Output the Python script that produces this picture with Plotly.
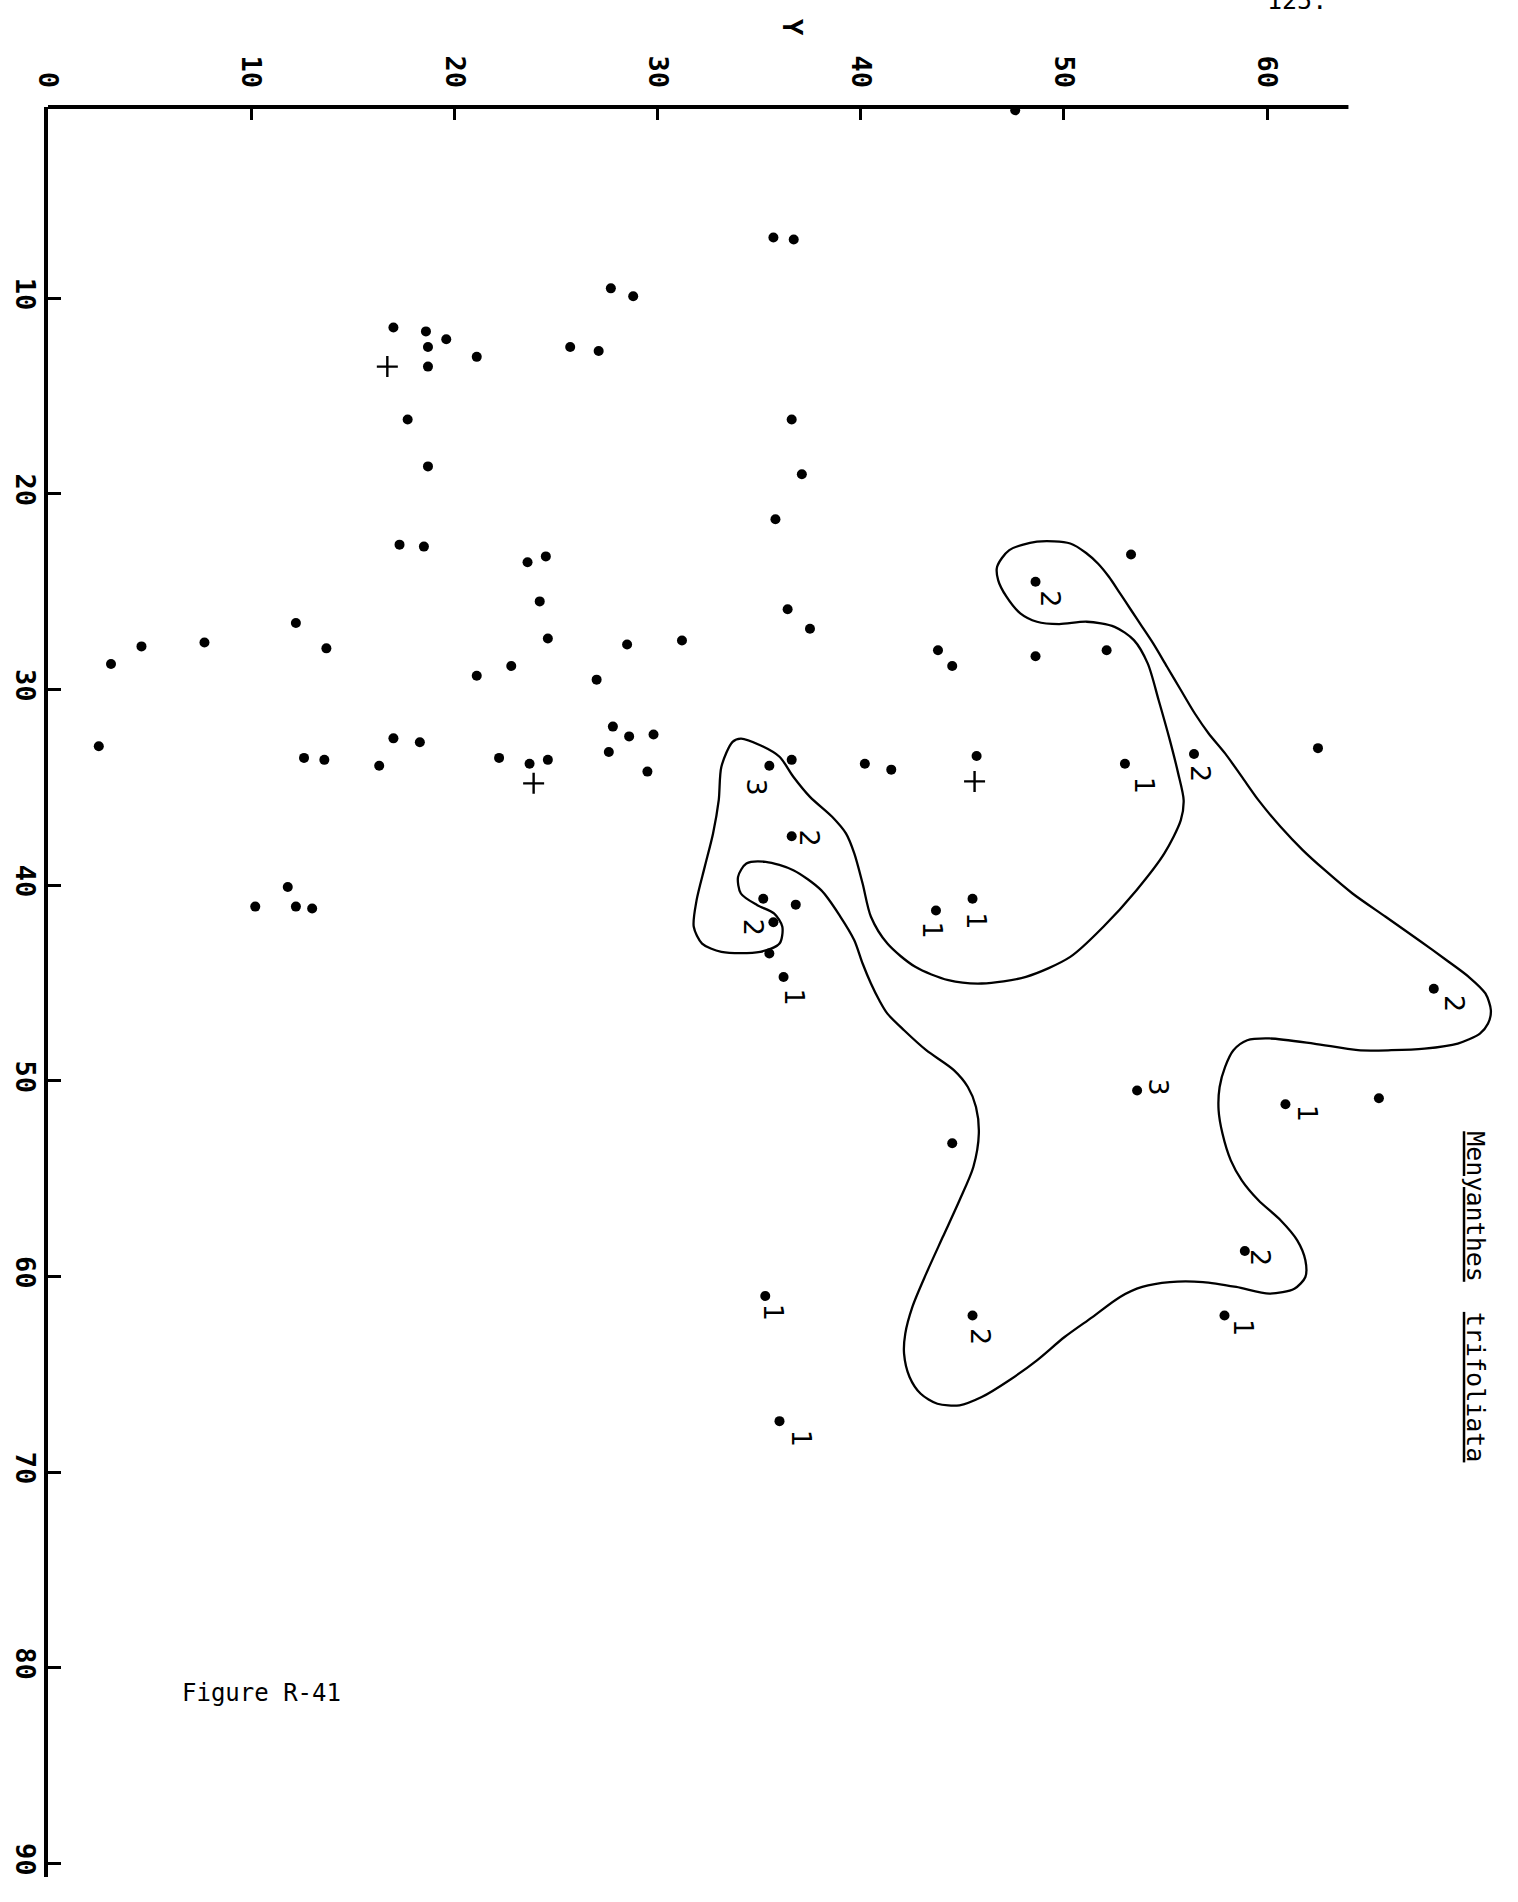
import plotly.graph_objects as go

# ---------------------------------------------------------------------------
# Data: horizontal coordinate is the "Y" axis, vertical coordinate is X
# ---------------------------------------------------------------------------
y_ticks = [0, 10, 20, 30, 40, 50, 60]
x_ticks = [10, 20, 30, 40, 50, 60, 70, 80, 90]

# plain sample dots
plain_y = [47.6, 35.7, 36.7, 27.7, 28.8, 17.0, 18.6, 19.6, 18.7, 21.1, 18.7,
           25.7, 27.1, 17.7, 18.7, 36.6, 37.1, 35.8, 17.3, 18.5, 23.6, 24.5,
           53.3, 24.2, 36.4, 37.5, 24.6, 12.2, 4.6, 7.7, 3.1, 13.7, 28.5,
           31.2, 43.8, 44.5, 48.6, 52.1, 22.8, 21.1, 27.0, 62.5, 2.5, 17.0,
           18.3, 27.8, 28.6, 29.8, 27.6, 29.5, 12.6, 13.6, 16.3, 22.2, 23.7,
           24.6, 36.6, 40.2, 41.5, 45.7, 11.8, 10.2, 12.2, 13.0, 35.2, 36.8,
           35.5, 65.5, 44.5]
plain_x = [0.4, 6.9, 7.0, 9.5, 9.9, 11.5, 11.7, 12.1, 12.5, 13.0, 13.5,
           12.5, 12.7, 16.2, 18.6, 16.2, 19.0, 21.3, 22.6, 22.7, 23.5, 23.2,
           23.1, 25.5, 25.9, 26.9, 27.4, 26.6, 27.8, 27.6, 28.7, 27.9, 27.7,
           27.5, 28.0, 28.8, 28.3, 28.0, 28.8, 29.3, 29.5, 33.0, 32.9, 32.5,
           32.7, 31.9, 32.4, 32.3, 33.2, 34.2, 33.5, 33.6, 33.9, 33.5, 33.8,
           33.6, 33.6, 33.8, 34.1, 33.4, 40.1, 41.1, 41.1, 41.2, 40.7, 41.0,
           43.5, 50.9, 53.2]

# dots carrying an abundance number
counted_y = [48.6, 35.5, 53.0, 56.4, 36.6, 35.7, 36.2, 43.7, 45.5, 68.2,
             53.6, 60.9, 58.9, 35.3, 57.9, 45.5, 36.0]
counted_x = [24.5, 33.9, 33.8, 33.3, 37.5, 41.9, 44.7, 41.3, 40.7, 45.3,
             50.5, 51.2, 58.7, 61.0, 62.0, 62.0, 67.4]
counted_n = ["2", "3", "1", "2", "2", "2", "1", "1", "1", "2",
             "3", "1", "2", "1", "1", "2", "1"]

# cross-marked samples
cross_y = [16.7, 23.9, 45.6]
cross_x = [13.5, 34.8, 34.7]

# outline of the occurrence area
contour_y = [46.71, 47.31, 48.67, 50.31, 51.12, 51.67, 52.21, 52.76, 53.30,
             53.85, 54.39, 55.07, 55.75, 56.44, 57.12, 57.93, 58.75, 59.57,
             60.66, 61.75, 62.84, 64.20, 65.83, 67.47, 68.83, 69.92, 70.74,
             71.01, 70.87, 70.47, 69.38, 67.74, 66.11, 64.47, 62.29, 60.11,
             59.02, 58.34, 57.93, 57.66, 57.61, 57.80, 58.21, 58.75, 59.57,
             60.66, 61.48, 61.88, 61.88, 61.34, 60.11, 58.48, 56.84, 55.21,
             53.85, 52.76, 51.40, 50.03, 48.67, 47.31, 45.95, 44.86, 43.77,
             42.95, 42.40, 42.13, 42.19, 42.54, 43.22, 44.04, 44.86, 45.54,
             45.81, 45.67, 45.27, 44.58, 43.22, 42.13, 41.31, 40.91, 40.50,
             40.09, 39.68, 39.00, 38.05, 36.68, 35.32, 34.37, 33.96, 34.10,
             34.91, 35.73, 36.14, 36.00, 35.05, 33.14, 32.19, 31.78, 31.92,
             32.32, 32.73, 33.01, 33.14, 33.69, 34.10, 35.05, 36.00, 36.68,
             37.50, 38.59, 39.27, 39.68, 40.09, 40.50, 41.31, 42.68, 44.31,
             45.95, 48.13, 50.31, 51.94, 53.57, 54.94, 55.75, 55.89, 55.62,
             55.21, 54.66, 54.12, 53.44, 52.49, 51.12, 49.76, 48.67, 47.85,
             47.17, 46.76]
contour_x = [23.73, 22.88, 22.45, 22.54, 23.05, 23.56, 24.24, 25.09, 25.94,
             26.80, 27.65, 28.84, 30.03, 31.23, 32.25, 33.27, 34.46, 35.66,
             37.02, 38.21, 39.24, 40.43, 41.62, 42.82, 43.84, 44.69, 45.54,
             46.40, 47.08, 47.59, 48.10, 48.36, 48.44, 48.44, 48.10, 47.84,
             47.93, 48.44, 49.29, 50.32, 51.51, 52.70, 54.07, 55.09, 56.11,
             57.13, 58.16, 59.18, 60.03, 60.63, 60.88, 60.54, 60.29, 60.29,
             60.54, 61.05, 62.08, 63.10, 64.29, 65.31, 66.17, 66.59, 66.51,
             66.00, 65.14, 63.95, 62.93, 61.56, 59.86, 57.98, 56.11, 54.41,
             52.70, 51.34, 50.32, 49.46, 48.44, 47.42, 46.57, 45.89, 45.03,
             44.01, 42.82, 41.62, 40.26, 39.24, 38.81, 38.90, 39.58, 40.43,
             41.03, 41.45, 42.13, 42.99, 43.41, 43.41, 42.99, 42.13, 40.77,
             39.07, 37.36, 35.66, 33.95, 32.68, 32.51, 32.85, 33.44, 34.46,
             35.49, 36.51, 37.36, 38.38, 39.92, 41.62, 42.99, 44.18, 44.86,
             45.03, 44.69, 43.67, 42.13, 40.26, 38.38, 36.68, 35.66, 34.29,
             32.59, 30.55, 28.67, 27.48, 26.80, 26.54, 26.66, 26.54, 26.11,
             25.26, 24.41]

# ---------------------------------------------------------------------------
# Layout geometry and styling
# ---------------------------------------------------------------------------
FIG_W, FIG_H = 1518, 1902
Y_RANGE = [0, 72]          # horizontal axis span
X_RANGE = [90.7, 0.23]     # vertical axis span, 0 at the top
AXIS_END = 64              # the drawn top axis stops here
M_L, M_T = 48, 107
PLOT_W = 1463
PLOT_H = 1769.6
M_R = FIG_W - M_L - PLOT_W
M_B = FIG_H - M_T - PLOT_H


def px_to_paper_x(px):
    return (px - M_L) / PLOT_W


def px_to_paper_y(py):
    return 1 - (py - M_T) / PLOT_H


# pixel offsets of the handwritten numbers relative to their dots
label_offsets = [(15, 17), (-13, 21), (19, 22), (7, 19), (18, 2), (-20, 5),
                 (11, 20), (-3, 20), (4, 22), (20, 15), (21, -4), (22, 9),
                 (15, 7), (8, 16), (19, 12), (8, 21), (22, 17)]

INK = "black"
MONO = "DejaVu Sans Mono"
DOT_SIZE = 10

fig = go.Figure()

closed_y = contour_y + [contour_y[0]]
closed_x = contour_x + [contour_x[0]]
fig.add_trace(go.Scatter(
    x=closed_y, y=closed_x, mode="lines",
    line=dict(color=INK, width=2.3, shape="spline", smoothing=0.8),
    hoverinfo="skip", showlegend=False,
))

fig.add_trace(go.Scatter(
    x=plain_y, y=plain_x, mode="markers",
    marker=dict(color=INK, size=DOT_SIZE, line=dict(width=0)),
    cliponaxis=False, showlegend=False,
))

fig.add_trace(go.Scatter(
    x=counted_y, y=counted_x, mode="markers",
    marker=dict(color=INK, size=DOT_SIZE, line=dict(width=0)),
    cliponaxis=False, showlegend=False,
))

fig.add_trace(go.Scatter(
    x=cross_y, y=cross_x, mode="markers",
    marker=dict(symbol="cross-thin", size=15, color=INK,
                line=dict(color=INK, width=2.4)),
    cliponaxis=False, showlegend=False,
))

annotations = []
for yv, xv, n, (dx, dy) in zip(counted_y, counted_x, counted_n, label_offsets):
    annotations.append(dict(
        x=yv, y=xv, xref="x", yref="y", text=n, showarrow=False,
        xanchor="center", yanchor="middle",
        xshift=dx, yshift=-dy, textangle=90,
        font=dict(family="DejaVu Sans", size=27, color=INK),
    ))

# axis title, species name, caption and page number
annotations.append(dict(
    x=px_to_paper_x(792), y=px_to_paper_y(27),
    xref="paper", yref="paper", xanchor="center", yanchor="middle",
    text="<b>Y</b>", showarrow=False, textangle=90,
    font=dict(family=MONO, size=27, color=INK),
))
annotations.append(dict(
    x=px_to_paper_x(1476), y=px_to_paper_y(1296),
    xref="paper", yref="paper", xanchor="center", yanchor="middle",
    text="<u>Menyanthes</u>  <u>trifoliata</u>", showarrow=False,
    textangle=90, font=dict(family=MONO, size=25, color=INK),
))
annotations.append(dict(
    x=px_to_paper_x(180), y=px_to_paper_y(1693),
    xref="paper", yref="paper", xanchor="left", yanchor="middle",
    text="Figure R-41", showarrow=False,
    font=dict(family=MONO, size=24, color=INK),
))
annotations.append(dict(
    x=px_to_paper_x(1297), y=px_to_paper_y(1),
    xref="paper", yref="paper", xanchor="center", yanchor="middle",
    text="125.", showarrow=False,
    font=dict(family=MONO, size=25, color=INK),
))

tick_font = dict(family=MONO, size=27, color=INK, weight="bold")

fig.update_layout(
    width=FIG_W, height=FIG_H,
    margin=dict(l=M_L, r=M_R, t=M_T, b=M_B, autoexpand=False),
    paper_bgcolor="white", plot_bgcolor="white",
    showlegend=False,
    annotations=annotations,
    shapes=[dict(
        type="line", xref="paper", yref="paper",
        x0=0, x1=(AXIS_END - Y_RANGE[0]) / (Y_RANGE[1] - Y_RANGE[0]),
        y0=1, y1=1, line=dict(color=INK, width=4),
    )],
    xaxis=dict(
        range=Y_RANGE, side="top", showline=False, showgrid=False,
        zeroline=False, ticks="inside", ticklen=13, tickwidth=3,
        tickcolor=INK, tickvals=y_ticks, ticktext=[str(v) for v in y_ticks],
        tickangle=90, tickfont=tick_font, ticklabelstandoff=14,
    ),
    yaxis=dict(
        range=X_RANGE, showline=True, linewidth=4, linecolor=INK,
        showgrid=False, zeroline=False, ticks="inside", ticklen=13,
        tickwidth=3, tickcolor=INK, tickvals=x_ticks,
        ticktext=[str(v) for v in x_ticks], tickangle=90,
        tickfont=tick_font, ticklabelstandoff=-4,
    ),
)

fig.write_html("out.html")
